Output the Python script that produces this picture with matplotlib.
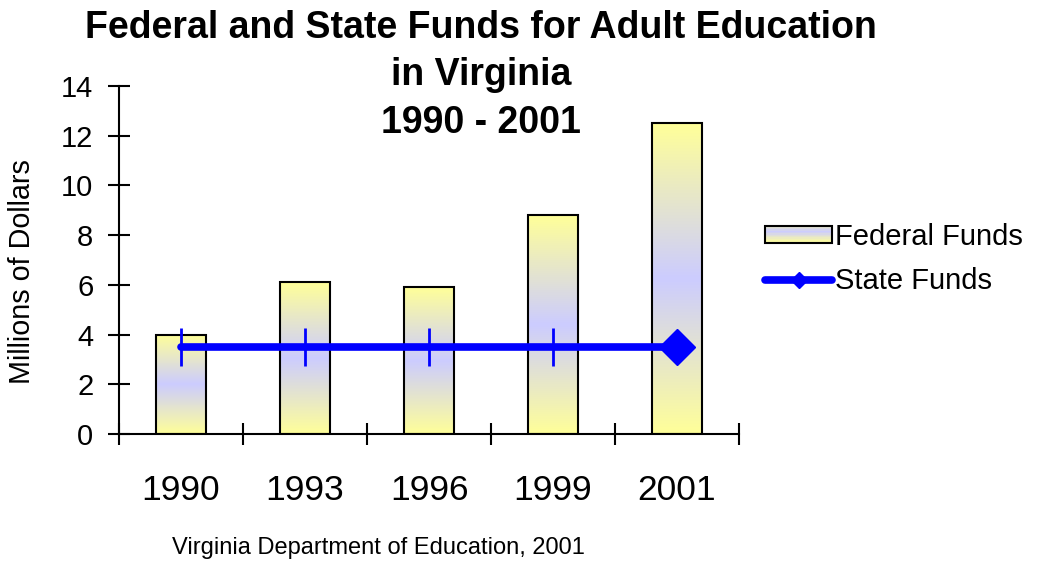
import numpy as np
import matplotlib
matplotlib.use("Agg")
import matplotlib.pyplot as plt
from matplotlib.colors import LinearSegmentedColormap
from matplotlib.legend_handler import HandlerBase
from matplotlib.lines import Line2D
from matplotlib.patches import Rectangle

plt.rcParams["font.family"] = ["Liberation Sans", "DejaVu Sans"]

years = ["1990", "1993", "1996", "1999", "2001"]
federal_funds = [4.0, 6.1, 5.9, 8.8, 12.5]
state_funds = [3.5, 3.5, 3.5, 3.5, 3.5]

title_lines = ["Federal and State Funds for Adult Education", "in Virginia", "1990 - 2001"]
source = "Virginia Department of Education, 2001"

# yellow -> lavender -> yellow fill used on the bars
fund_cmap = LinearSegmentedColormap.from_list("fund", ["#FFFF99", "#CCCCFF", "#FFFF99"])


class GradientPatchHandler(HandlerBase):
    """Legend handle drawn as stacked strips of the bar gradient."""

    def create_artists(self, legend, orig_handle, xdescent, ydescent,
                       width, height, fontsize, trans):
        artists = []
        n = 12
        h = height / n
        for i in range(n):
            t = 1.0 - 0.7 * i / (n - 1)
            r = Rectangle((-xdescent, -ydescent + i * h), width, h,
                          facecolor=fund_cmap(t), edgecolor="none",
                          transform=trans)
            artists.append(r)
        edge = Rectangle((-xdescent, -ydescent), width, height,
                         facecolor="none", edgecolor="black", lw=1.5,
                         transform=trans)
        artists.append(edge)
        return artists


fig = plt.figure(figsize=(10.37, 5.62), dpi=100)
ax = fig.add_axes([0.1148, 0.2278, 0.5978, 0.6192])

x = np.arange(len(years))
bars = ax.bar(x, federal_funds, width=0.4, facecolor="none",
              edgecolor="black", linewidth=1.5, zorder=3)

gradient = np.linspace(0, 1, 256).reshape(-1, 1)
for b in bars:
    x0, y0 = b.get_x(), b.get_y()
    img = ax.imshow(gradient, cmap=fund_cmap, aspect="auto", origin="lower",
                    extent=(x0, x0 + b.get_width(), y0, y0 + b.get_height()),
                    zorder=2, interpolation="bilinear")
    img.set_clip_path(b)

ax.plot(x, state_funds, color="#0000FF", lw=5.5, solid_capstyle="round",
        zorder=4)
ax.plot(x[:-1], state_funds[:-1], ls="none", marker="|", markersize=27,
        markeredgewidth=2, color="#0000FF", zorder=5)
ax.plot(x[-1:], state_funds[-1:], ls="none", marker="D", markersize=18,
        color="#0000FF", zorder=5)

ax.set_xlim(-0.5, len(years) - 0.5)
ax.set_ylim(0, 14)

ax.set_yticks(np.arange(0, 15, 2))
ax.tick_params(axis="y", direction="inout", length=15.8, width=1.5,
               labelsize=21, pad=10.5)
ax.set_xticks(np.arange(-0.5, len(years), 1.0))
ax.set_xticklabels([])
ax.set_xticks(x, minor=True)
ax.set_xticklabels(years, minor=True)
ax.tick_params(axis="x", which="major", direction="inout", length=15.8,
               width=1.5)
ax.tick_params(axis="x", which="minor", length=0, labelsize=25.5, pad=29)

for side in ["top", "right"]:
    ax.spines[side].set_visible(False)
for side in ["left", "bottom"]:
    ax.spines[side].set_linewidth(1.5)

ax.set_ylabel("Millions of Dollars", fontsize=20.7)
ax.yaxis.set_label_coords(-0.134, 0.468)

# three title lines, centred over the plot
for line, y in zip(title_lines, [0.950, 0.867, 0.782]):
    fig.text(0.464, y, line, ha="center", va="center", fontsize=27,
             fontweight="bold")
fig.text(0.365, 0.025, source, ha="center", va="center", fontsize=17)

fed_handle = Rectangle((0, 0), 1, 1)
state_handle = Line2D([], [], color="#0000FF", lw=5.5, marker="D",
                      markersize=8, solid_capstyle="round")
ax.legend([fed_handle, state_handle], ["Federal Funds", "State Funds"],
          handler_map={Rectangle: GradientPatchHandler()},
          loc="center left", bbox_to_anchor=(0.738, 0.539),
          bbox_transform=fig.transFigure, frameon=False, fontsize=21,
          handlelength=2.3, handleheight=0.5, handletextpad=0.1,
          labelspacing=0.55, borderpad=0, borderaxespad=0)

fig.savefig("out.png", dpi=100)
